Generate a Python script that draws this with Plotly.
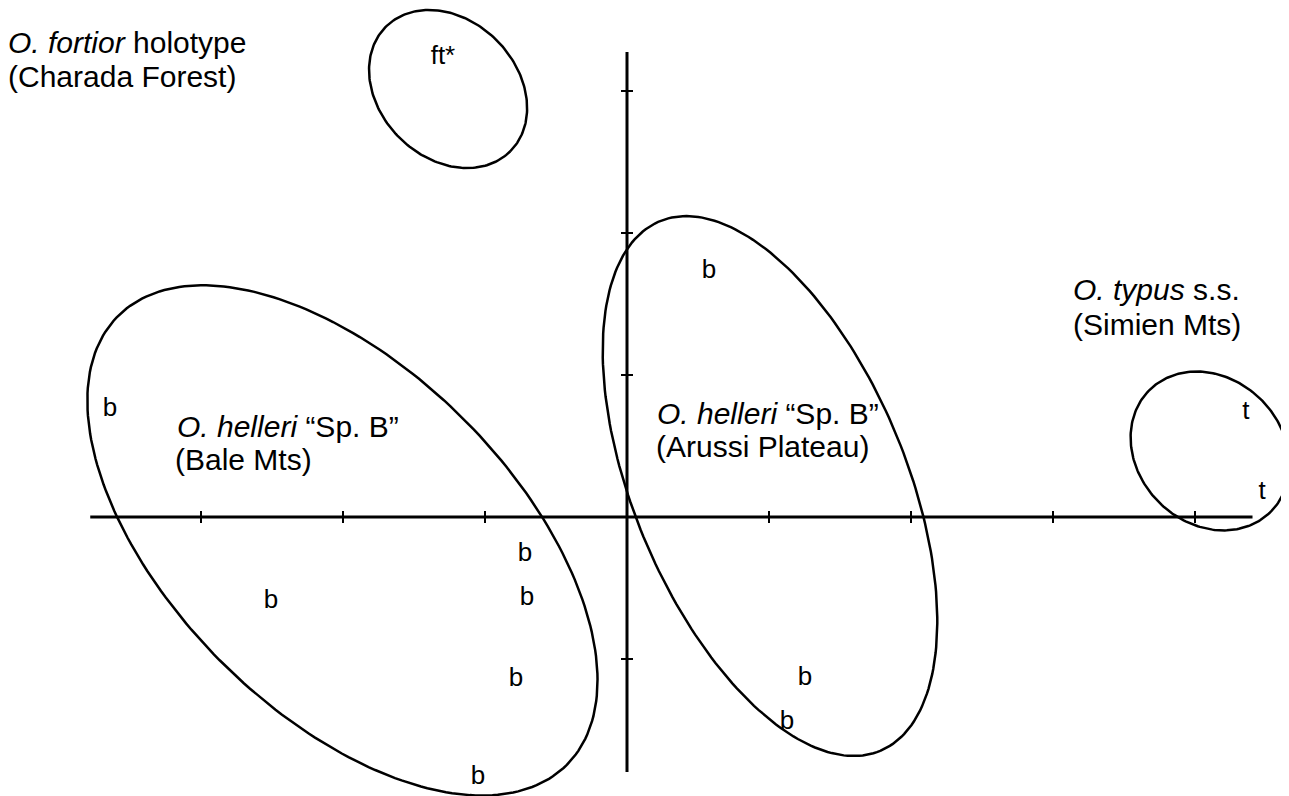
import numpy as np
import plotly.graph_objects as go

# scatter points (discriminant scores), one letter per specimen
point_x = [-1.296, 0.577, -3.641, 4.359, 4.472, -0.718, -2.507, -0.704, -0.782, -1.049, 1.254, 1.127]
point_y = [3.239, 1.732, 0.754, 0.739, 0.176, -0.261, -0.592, -0.577, -1.141, -1.831, -1.134, -1.444]
point_text = ['ft*', 'b', 'b', 't', 't', 'b', 'b', 'b', 'b', 'b', 'b', 'b']

# group ellipses: centre, semi-axes, rotation (degrees)
ell_names = ['fortior', 'bale', 'arussi', 'typus']
ell_cx = [-1.26, -2.004, 1.007, 4.106]
ell_cy = [3.014, -0.165, 0.218, 0.465]
ell_a = [0.62, 2.235, 2.02, 0.605]
ell_b = [0.485, 1.208, 0.96, 0.51]
ell_angle = [-45, -45, -67.4, -45]

# axes through the origin
x_axis_ext = [-3.78, 4.405]
y_axis_ext = [-1.796, 3.275]
x_ticks = [-3, -2, -1, 1, 2, 3, 4]
y_ticks = [-1, 1, 2, 3]

# group labels (one entry per line)
label_text = ['<i>O. fortior</i> holotype', '(Charada Forest)',
              '<i>O. helleri</i> \u201cSp. B\u201d', '(Bale Mts)',
              '<i>O. helleri</i> \u201cSp. B\u201d', '(Arussi Plateau)',
              '<i>O. typus</i> s.s.', '(Simien Mts)']
label_x = [-4.359, -4.359, -3.169, -3.183, 0.211, 0.204, 3.141, 3.141]
label_y = [3.268, 3.028, 0.563, 0.331, 0.655, 0.423, 1.528, 1.282]

PAGE = 8  # default body margin of the html page
W, H = 1289 - PAGE, 796 - PAGE
PX = 142.0  # pixels per unit
ORIG_X, ORIG_Y = 627 - PAGE, 517 - PAGE
FONT = 'Liberation Sans, Arial, Helvetica'

fig = go.Figure()

t = np.linspace(0, 2 * np.pi, 240)
for i in range(len(ell_names)):
    th = np.radians(ell_angle[i])
    ex = ell_cx[i] + ell_a[i] * np.cos(t) * np.cos(th) - ell_b[i] * np.sin(t) * np.sin(th)
    ey = ell_cy[i] + ell_a[i] * np.cos(t) * np.sin(th) + ell_b[i] * np.sin(t) * np.cos(th)
    fig.add_trace(go.Scatter(x=ex, y=ey, mode='lines', line=dict(color='black', width=2.5),
                             hoverinfo='skip', showlegend=False))

fig.add_trace(go.Scatter(x=x_axis_ext, y=[0, 0], mode='lines',
                         line=dict(color='black', width=3), showlegend=False))
fig.add_trace(go.Scatter(x=[0, 0], y=y_axis_ext, mode='lines',
                         line=dict(color='black', width=3), showlegend=False))

tick = 6 / PX
tx, ty = [], []
for v in x_ticks:
    tx += [v, v, None]
    ty += [-tick, tick, None]
for v in y_ticks:
    tx += [-tick, tick, None]
    ty += [v, v, None]
fig.add_trace(go.Scatter(x=tx, y=ty, mode='lines', line=dict(color='black', width=2),
                         showlegend=False))

fig.add_trace(go.Scatter(x=point_x, y=point_y, mode='text', text=point_text,
                         textfont=dict(family=FONT, size=26, color='black'),
                         textposition='middle center', showlegend=False, cliponaxis=False))

for txt, lx, ly in zip(label_text, label_x, label_y):
    fig.add_annotation(x=lx, y=ly, text=txt, showarrow=False, xanchor='left', yanchor='bottom',
                       yshift=-8, xshift=-2,
                       font=dict(family=FONT, size=30, color='black'))

fig.update_layout(
    width=W, height=H,
    margin=dict(l=0, r=0, t=0, b=0),
    paper_bgcolor='white', plot_bgcolor='white',
    xaxis=dict(range=[-ORIG_X / PX, (W - ORIG_X) / PX], visible=False, fixedrange=True),
    yaxis=dict(range=[(ORIG_Y - H) / PX, ORIG_Y / PX], visible=False, fixedrange=True),
)

fig.write_html("out.html")
